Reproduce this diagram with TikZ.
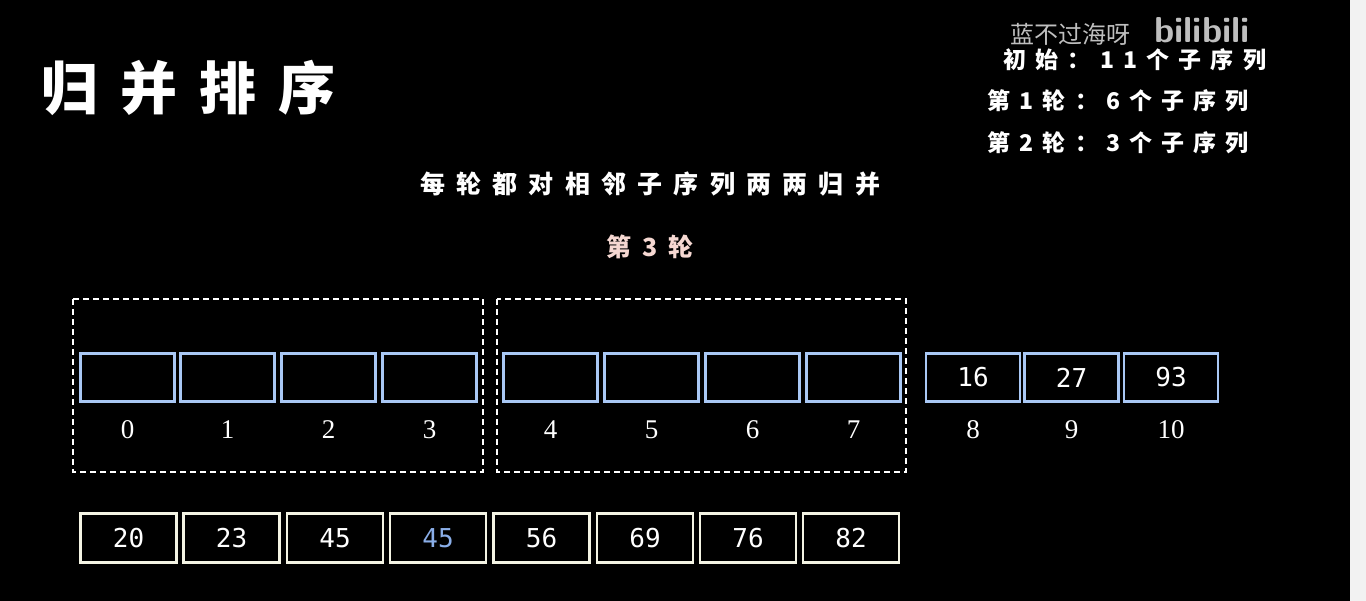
\documentclass[tikz,border=0pt]{standalone}
\usepackage{fontspec}
\setmainfont{Liberation Serif}
\setmonofont{DejaVu Sans Mono}
\newfontfamily\cjk{Noto Sans CJK SC}
\newfontfamily\cjksp[LetterSpace=40]{Noto Sans CJK SC}
\newfontfamily\cjkspb[LetterSpace=45]{Noto Sans CJK SC}
\definecolor{cellblue}{HTML}{A9C8F5}
\definecolor{cellwhite}{HTML}{F4F4E4}
\definecolor{pinkish}{HTML}{F6D8D2}
\definecolor{numblue}{HTML}{8AAEE8}
\tikzset{x=1pt,y=-1pt,
 cellb/.style={draw=cellblue,line width=2.5pt,minimum width=94pt,minimum height=48pt,inner sep=0pt,text=white,font=\ttfamily\fontsize{26}{26}\selectfont},
 cellw/.style={draw=cellwhite,line width=2.5pt,minimum width=96pt,minimum height=49pt,inner sep=0pt,text=white,font=\ttfamily\fontsize{26}{26}\selectfont},
 idx/.style={text=white,font=\fontsize{27}{27}\selectfont},
 grp/.style={draw=white,dashed,line width=1.5pt,dash pattern=on 6pt off 4pt},
 side/.style={text=white,font=\cjksp\bfseries\fontsize{23}{23}\selectfont,anchor=west}}
\begin{document}
\begin{tikzpicture}
\fill[black] (0,0) rectangle (1366,601);
\fill[white!95!black] (1350,0) rectangle (1366,601);
\useasboundingbox (0,0) rectangle (1366,601);
\node[text=white,font=\cjk\bfseries\fontsize{57}{57}\selectfont,anchor=west] (title) at (38,88) {归\hspace{22pt}并\hspace{22pt}排\hspace{22pt}序};
\node[text=white!75!black,font=\cjk\fontsize{24}{24}\selectfont] (wm) at (1070,34) {蓝不过海呀};
\node[text=white!75!black,font=\sffamily\bfseries\fontsize{36}{36}\selectfont] (logo) at (1202,30) {bilibili};
\node[side] (s0) at (1000,60) {初始：11个子序列};
\node[side] (s1) at (984,101) {第1轮：\hspace{8pt}6个子序列};
\node[side] (s2) at (984,143) {第2轮：\hspace{8pt}3个子序列};
\node[text=white,font=\cjkspb\bfseries\fontsize{25}{25}\selectfont] (sub) at (650,184) {每轮都对相邻子序列两两归并};
\node[text=pinkish,font=\cjkspb\bfseries\fontsize{25}{25}\selectfont] (round) at (650,247) {第3轮};
\draw[grp] (73,299) rectangle (483,472);
\draw[grp] (497,299) rectangle (906,472);
\foreach \i/\x/\v in {0/127.5/,1/227.5/,2/328.5/,3/429.5/,4/550.5/,5/651.5/,6/752.5/,7/853.5/,8/973/16,9/1071.5/27,10/1171/93}{
 \node[cellb] (c\i) at (\x,377.5) {\v};
 \node[idx] (i\i) at (\x,430) {\i};
}
\foreach \i/\x/\v in {0/128.5/20,1/231.5/23,2/335/45,4/541.5/56,5/645/69,6/748/76,7/851/82}{
 \node[cellw] (r\i) at (\x,538) {\v};
}
\node[cellw,text=numblue] (r3) at (438,538) {45};
\end{tikzpicture}
\end{document}
